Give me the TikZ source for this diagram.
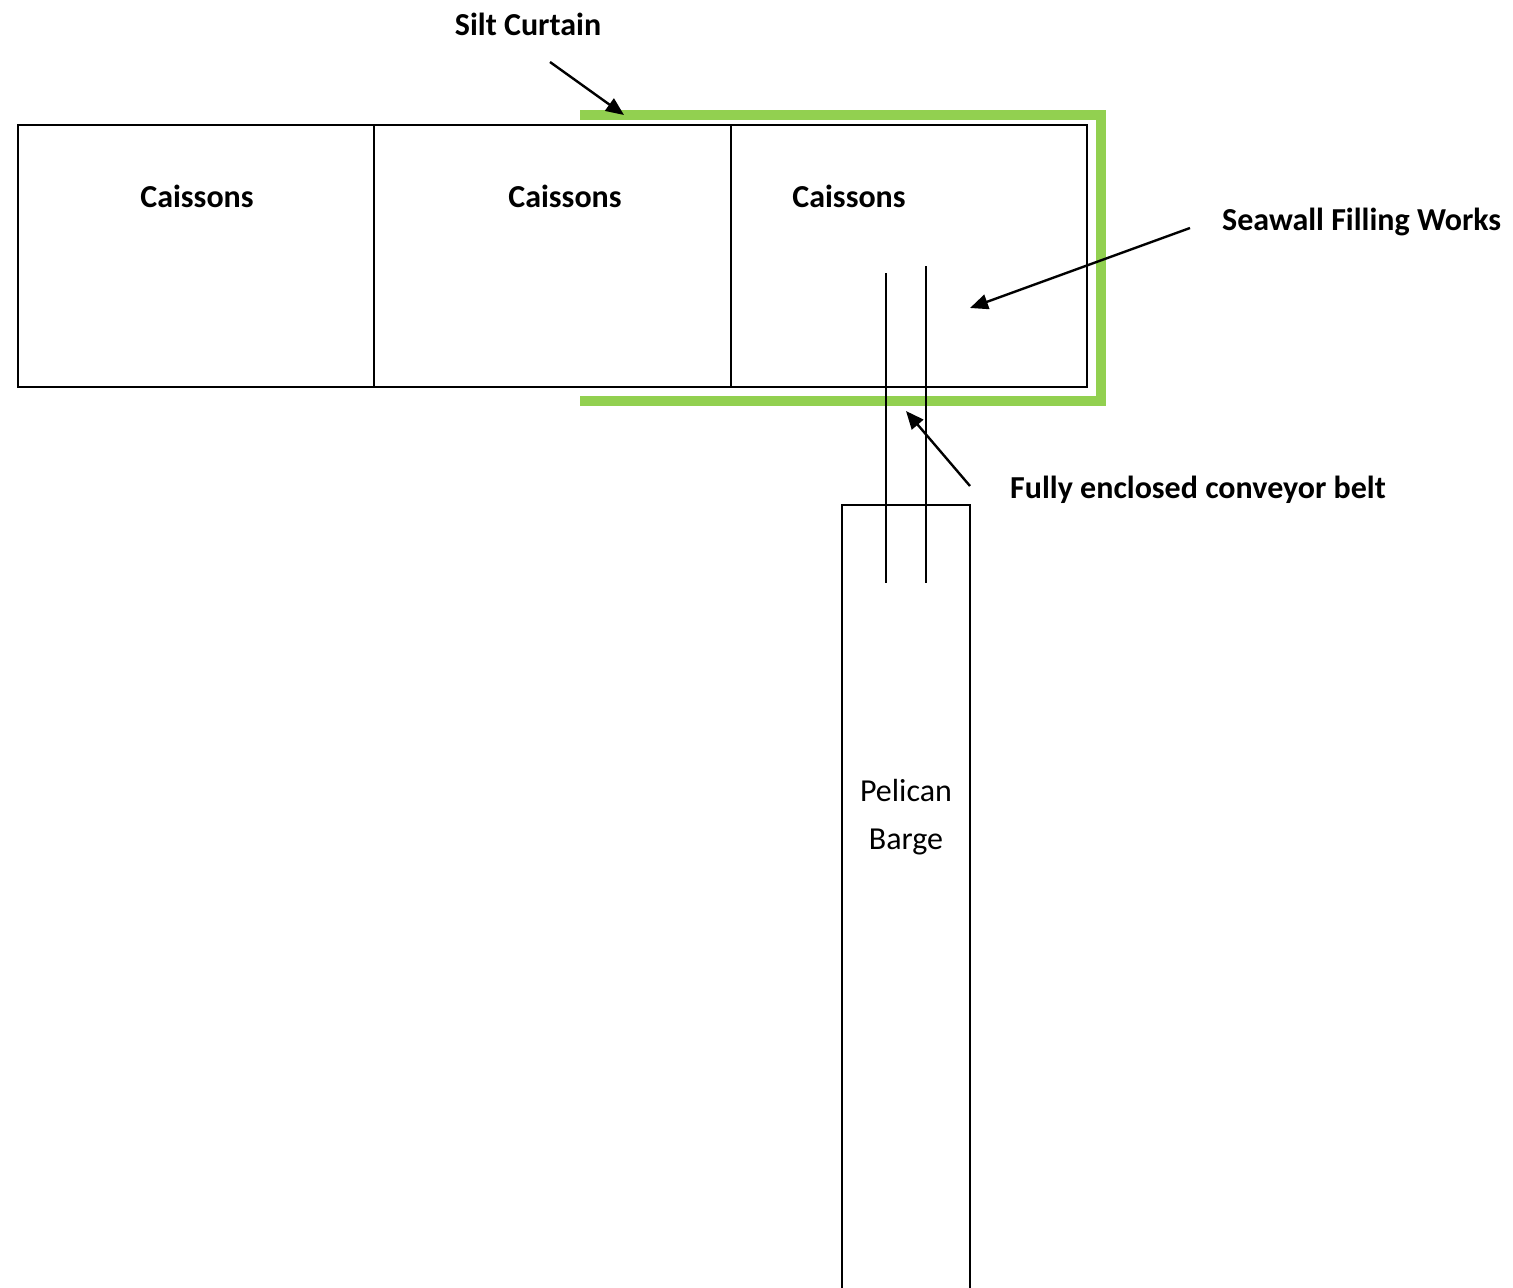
\documentclass[tikz,border=0pt]{standalone}
\usepackage{fontspec}
\setmainfont{Carlito}
\usetikzlibrary{arrows.meta}
\begin{document}
\begin{tikzpicture}[x=1pt,y=-1pt,
  box/.style={draw=black,line width=1.8pt},
  belt/.style={draw=black,line width=1.8pt},
  curtain/.style={draw={rgb,255:red,146;green,208;blue,80},line width=10pt},
  pointer/.style={draw=black,line width=2.4pt,-{Triangle[length=18pt,width=15pt]}},
  lbl/.style={font=\fontsize{32}{38}\selectfont\bfseries,inner sep=0pt},
  plain/.style={font=\fontsize{32}{48}\selectfont,inner sep=0pt,align=center}]
\useasboundingbox (0,0) rectangle (1513,1288);
% green silt curtain
\draw[curtain] (580,115) -- (1101,115) -- (1101,401) -- (580,401);
% caissons
\draw[box] (18,125) rectangle (1087,387);
\draw[box] (374,125) -- (374,387);
\draw[box] (731,125) -- (731,387);
% barge
\draw[box] (842,1295) -- (842,505) -- (970,505) -- (970,1295);
% conveyor
\coordinate (b1t) at (886,273); \coordinate (b1b) at (886,583);
\coordinate (b2t) at (926,266); \coordinate (b2b) at (926,583);
\draw[belt] (b1t) -- (b1b);
\draw[belt] (b2t) -- (b2b);
% labels
\node[lbl] (c1) at (197,196) {Caissons};
\node[lbl] (c2) at (565,196) {Caissons};
\node[lbl] (c3) at (849,196) {Caissons};
\node[lbl] (silt) at (528,24) {Silt Curtain};
\node[lbl,anchor=west] (sea) at (1222,221.5) {Seawall Filling Works};
\node[lbl,anchor=west] (conv) at (1010,489.5) {Fully enclosed conveyor belt};
\node[plain] (barge) at (906,817) {Pelican\\Barge};
% pointers
\coordinate (s1) at (550,62); \coordinate (s2) at (624,115);
\coordinate (w1) at (1190,228); \coordinate (w2) at (970,308);
\coordinate (f1) at (970,486); \coordinate (f2) at (906,411);
\draw[pointer] (s1) -- (s2);
\draw[pointer] (w1) -- (w2);
\draw[pointer] (f1) -- (f2);
\end{tikzpicture}
\end{document}
